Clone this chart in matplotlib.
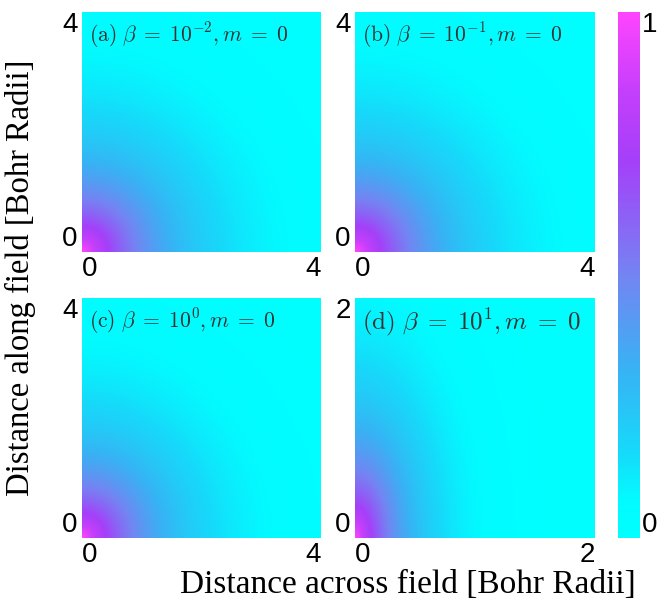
import numpy as np
import matplotlib
matplotlib.use("Agg")
import matplotlib.pyplot as plt
from matplotlib.colors import LinearSegmentedColormap

plt.rcParams['mathtext.fontset'] = 'cm'

# panel settings
labels = ["$\\mathrm{(a)}\\ \\beta\\;=\\;10^{-2}, m\\;=\\;0$",
          "$\\mathrm{(b)}\\ \\beta\\;=\\;10^{-1}, m\\;=\\;0$",
          "$\\mathrm{(c)}\\ \\beta\\;=\\;10^{0}, m\\;=\\;0$",
          "$\\mathrm{(d)}\\ \\beta\\;=\\;10^{1}, m\\;=\\;0$"]
extents = [4, 4, 4, 2]
# decay lengths (across field, along field) in Bohr radii
decay_across = [1.3, 1.3, 1.2, 0.4]
decay_along = [1.3, 1.3, 1.25, 0.8]
title_sizes = [15.5, 15.5, 15.5, 18]

# axes boxes in pixels (left, top, right, bottom)
boxes = [(82, 12, 321, 252), (355, 12, 595, 252),
         (82, 298, 321, 538), (355, 298, 595, 538)]

cmap = LinearSegmentedColormap.from_list("dens", [
    (0.0, "#00ffff"), (0.07, "#02fbff"), (0.16, "#16dafa"), (0.32, "#38b2f4"),
    (0.5, "#7484f2"), (0.72, "#a53ff9"), (0.85, "#c43ffb"), (1.0, "#ff44ff")])

W, H = 657, 604
fig = plt.figure(figsize=(W / 100, H / 100), dpi=100)

def ax_rect(l, t, r, b):
    return [l / W, 1 - b / H, (r - l) / W, (b - t) / H]

for i in range(4):
    ax = fig.add_axes(ax_rect(*boxes[i]))
    L = extents[i]
    x = np.linspace(0, L, 300)
    X, Y = np.meshgrid(x, x)
    dens = np.exp(-np.sqrt((X / decay_across[i])**2 + (Y / decay_along[i])**2))
    ax.imshow(dens, origin='lower', extent=[0, L, 0, L], cmap=cmap, vmin=0, vmax=1,
              aspect='auto', interpolation='bilinear')
    ax.set_xlim(0, L)
    ax.set_ylim(0, L)
    ax.set_xticks([0, L])
    ax.set_yticks([0, L])
    ax.set_xticklabels(["0", str(L)], fontsize=20, family='Liberation Sans')
    ax.set_yticklabels(["0", str(L)], fontsize=20, family='Liberation Sans')
    ax.tick_params(length=0, pad=3)
    xl = ax.get_xticklabels()
    xl[0].set_ha('left')
    xl[1].set_ha('right')
    yl = ax.get_yticklabels()
    yl[0].set_va('bottom')
    yl[1].set_va('top')
    for s in ax.spines.values():
        s.set_visible(False)
    ax.text(0.03, 0.965, labels[i], transform=ax.transAxes, ha='left', va='top',
            fontsize=title_sizes[i], color='#333333')

cax = fig.add_axes(ax_rect(618, 12, 640, 538))
cb = fig.colorbar(plt.cm.ScalarMappable(cmap=cmap, norm=plt.Normalize(0, 1)), cax=cax)
cb.set_ticks([0, 1])
cb.ax.tick_params(length=0, pad=1, labelsize=20)
for t in cb.ax.get_yticklabels():
    t.set_family('Liberation Sans')
cb.ax.get_yticklabels()[0].set_va('bottom')
cb.ax.get_yticklabels()[1].set_va('top')
cb.outline.set_visible(False)

fig.text(408 / W, 1 - 585 / H, "Distance across field [Bohr Radii]", ha='center', va='center',
         fontsize=24, family='Liberation Serif')
fig.text(20 / W, 1 - 278 / H, "Distance along field [Bohr Radii]", ha='center', va='center',
         rotation=90, fontsize=23.5, family='Liberation Serif')

fig.savefig("out.png", dpi=100)
